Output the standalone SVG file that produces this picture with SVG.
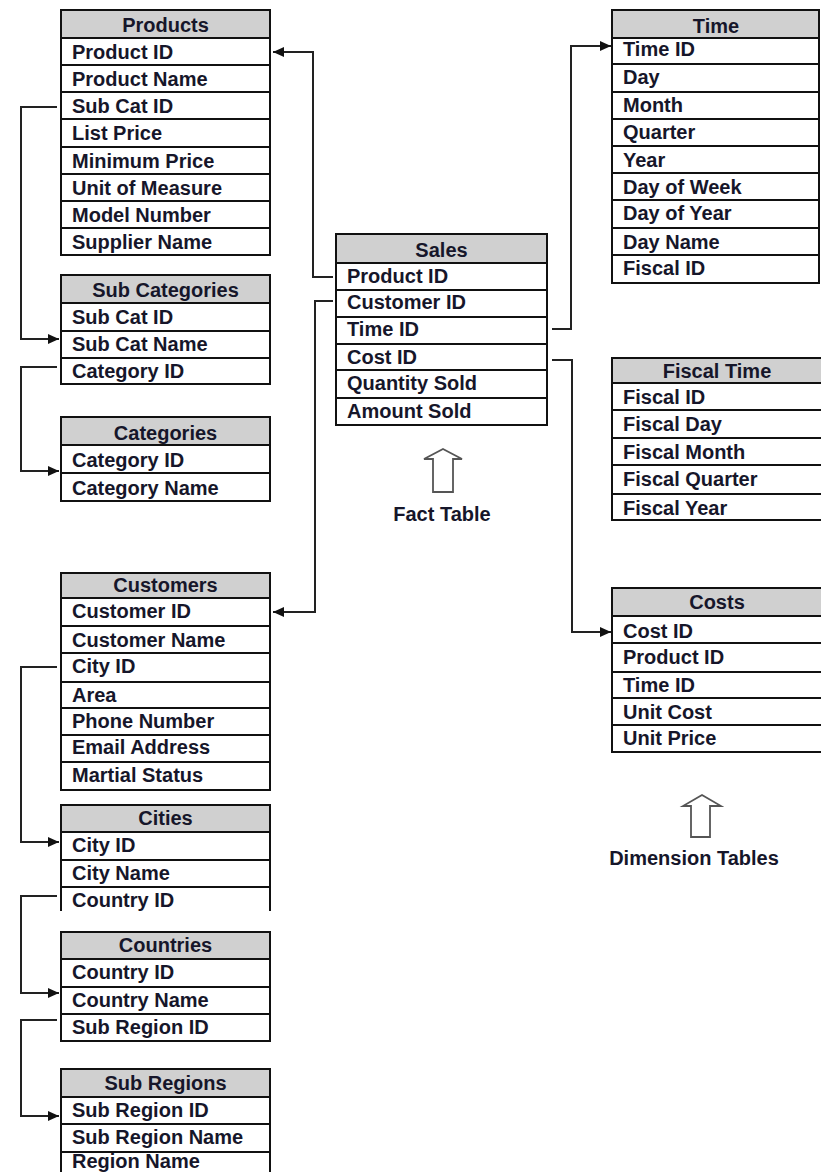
<svg xmlns="http://www.w3.org/2000/svg" width="821" height="1172" viewBox="0 0 821 1172">
<defs>
<style>
.hd{fill:#d0d0d0;stroke:#111;stroke-width:2}
.bx{fill:#fff;stroke:#111;stroke-width:2}
.ln{stroke:#111;stroke-width:2;fill:none}
text{font-family:"Liberation Sans",Arial,sans-serif;font-weight:bold;font-size:20px;fill:#16162a}
.c{text-anchor:middle}
.cn{stroke:#222;stroke-width:2;fill:none;marker-end:url(#ah)}
.ua{fill:#fff;stroke:#555;stroke-width:1.8}
</style>
<marker id="ah" markerUnits="userSpaceOnUse" markerWidth="12" markerHeight="10" refX="11" refY="5" orient="auto">
<path d="M0,0 L11,5 L0,10 Z" fill="#111"/>
</marker>
</defs>
<rect width="821" height="1172" fill="#fff"/>

<g id="connectors">
<path class="cn" d="M333,277 H313 V52 H273"/>
<path class="cn" d="M333,301 H315 V612 H273"/>
<path class="cn" d="M552,329 H571 V46 H611"/>
<path class="cn" d="M552,360 H572 V632 H611"/>
<path class="cn" d="M57,107 H21 V339 H59"/>
<path class="cn" d="M57,367 H21 V471 H59"/>
<path class="cn" d="M57,667 H21 V842 H59"/>
<path class="cn" d="M57,896 H21 V993 H59"/>
<path class="cn" d="M57,1020 H21 V1116 H59"/>
</g>

<g id="products">
<rect class="bx" x="61" y="10" width="209" height="245"/>
<rect class="hd" x="61" y="10" width="209" height="28"/>
<path class="ln" d="M61,65 H270 M61,92 H270 M61,119 H270 M61,147 H270 M61,174 H270 M61,201 H270 M61,228 H270"/>
<text class="c" x="165.5" y="32">Products</text>
<text x="72" y="59">Product ID</text>
<text x="72" y="86">Product Name</text>
<text x="72" y="113">Sub Cat ID</text>
<text x="72" y="140">List Price</text>
<text x="72" y="168">Minimum Price</text>
<text x="72" y="195">Unit of Measure</text>
<text x="72" y="222">Model Number</text>
<text x="72" y="249">Supplier Name</text>
</g>

<g id="subcategories">
<rect class="bx" x="61" y="275" width="209" height="109"/>
<rect class="hd" x="61" y="275" width="209" height="28"/>
<path class="ln" d="M61,331 H270 M61,358 H270"/>
<text class="c" x="165.5" y="297">Sub Categories</text>
<text x="72" y="324">Sub Cat ID</text>
<text x="72" y="351">Sub Cat Name</text>
<text x="72" y="378">Category ID</text>
</g>

<g id="categories">
<rect class="bx" x="61" y="417" width="209" height="84"/>
<rect class="hd" x="61" y="417" width="209" height="28"/>
<path class="ln" d="M61,473 H270"/>
<text class="c" x="165.5" y="440">Categories</text>
<text x="72" y="467">Category ID</text>
<text x="72" y="495">Category Name</text>
</g>

<g id="sales">
<rect class="bx" x="336" y="234" width="211" height="191"/>
<rect class="hd" x="336" y="234" width="211" height="29"/>
<path class="ln" d="M336,290 H547 M336,317 H547 M336,344 H547 M336,370 H547 M336,398 H547"/>
<text class="c" x="441.5" y="257">Sales</text>
<text x="347" y="283">Product ID</text>
<text x="347" y="309">Customer ID</text>
<text x="347" y="336">Time ID</text>
<text x="347" y="364">Cost ID</text>
<text x="347" y="390">Quantity Sold</text>
<text x="347" y="418">Amount Sold</text>
</g>

<g id="fact-label">
<path class="ua" d="M443,449 L462,459 L453,459 L453,492 L433,492 L433,459 L424,459 Z"/>
<text class="c" x="442" y="521">Fact Table</text>
</g>

<g id="time">
<rect class="bx" x="612" y="10" width="207" height="273"/>
<rect class="hd" x="612" y="10" width="207" height="28"/>
<path class="ln" d="M612,64 H819 M612,92 H819 M612,119 H819 M612,146 H819 M612,173 H819 M612,200 H819 M612,228 H819 M612,255 H819"/>
<text class="c" x="716" y="33">Time</text>
<text x="623" y="56">Time ID</text>
<text x="623" y="84">Day</text>
<text x="623" y="112">Month</text>
<text x="623" y="139">Quarter</text>
<text x="623" y="167">Year</text>
<text x="623" y="194">Day of Week</text>
<text x="623" y="220">Day of Year</text>
<text x="623" y="249">Day Name</text>
<text x="623" y="275">Fiscal ID</text>
</g>

<g id="fiscaltime">
<rect class="bx" x="612" y="358" width="212" height="162"/>
<rect class="hd" x="612" y="358" width="212" height="25"/>
<path class="ln" d="M612,410 H824 M612,438 H824 M612,465 H824 M612,494 H824"/>
<text class="c" x="717" y="378">Fiscal Time</text>
<text x="623" y="404">Fiscal ID</text>
<text x="623" y="431">Fiscal Day</text>
<text x="623" y="459">Fiscal Month</text>
<text x="623" y="486">Fiscal Quarter</text>
<text x="623" y="515">Fiscal Year</text>
</g>

<g id="costs">
<rect class="bx" x="612" y="588" width="212" height="164"/>
<rect class="hd" x="612" y="588" width="212" height="28"/>
<path class="ln" d="M612,643 H824 M612,672 H824 M612,698 H824 M612,725 H824"/>
<text class="c" x="717" y="609">Costs</text>
<text x="623" y="638">Cost ID</text>
<text x="623" y="664">Product ID</text>
<text x="623" y="692">Time ID</text>
<text x="623" y="719">Unit Cost</text>
<text x="623" y="745">Unit Price</text>
</g>

<g id="dimension-label">
<path class="ua" d="M702,795 L721,806 L710,806 L710,837 L691,837 L691,806 L683,806 Z"/>
<text class="c" x="694" y="865">Dimension Tables</text>
</g>

<g id="customers">
<rect class="bx" x="61" y="573" width="209" height="217" stroke="none"/>
<path class="ln" d="M61,790 V573 H270 V790"/>
<rect class="hd" x="61" y="573" width="209" height="25"/>
<path class="ln" d="M61,626 H270 M61,653 H270 M61,682 H270 M61,708 H270 M61,735 H270 M61,762 H270"/>
<text class="c" x="165.5" y="592">Customers</text>
<text x="72" y="618">Customer ID</text>
<text x="72" y="647">Customer Name</text>
<text x="72" y="673">City ID</text>
<text x="72" y="702">Area</text>
<text x="72" y="728">Phone Number</text>
<text x="72" y="754">Email Address</text>
<text x="72" y="782">Martial Status</text>
</g>

<g id="cities">
<path class="ln" d="M61,911 V805 H270 V911"/>
<rect class="hd" x="61" y="805" width="209" height="27"/>
<path class="ln" d="M61,860 H270 M61,887 H270"/>
<text class="c" x="165.5" y="825">Cities</text>
<text x="72" y="852">City ID</text>
<text x="72" y="880">City Name</text>
<text x="72" y="907">Country ID</text>
</g>

<g id="countries">
<rect class="bx" x="61" y="932" width="209" height="109"/>
<rect class="hd" x="61" y="932" width="209" height="27"/>
<path class="ln" d="M61,987 H270 M61,1014 H270"/>
<text class="c" x="165.5" y="952">Countries</text>
<text x="72" y="979">Country ID</text>
<text x="72" y="1007">Country Name</text>
<text x="72" y="1034">Sub Region ID</text>
</g>

<g id="subregions">
<path class="ln" d="M61,1180 V1069 H270 V1180"/>
<rect class="hd" x="61" y="1069" width="209" height="28"/>
<path class="ln" d="M61,1124 H270 M61,1152 H270"/>
<text class="c" x="165.5" y="1090">Sub Regions</text>
<text x="72" y="1117">Sub Region ID</text>
<text x="72" y="1144">Sub Region Name</text>
<text x="72" y="1168">Region Name</text>
</g>
</svg>
